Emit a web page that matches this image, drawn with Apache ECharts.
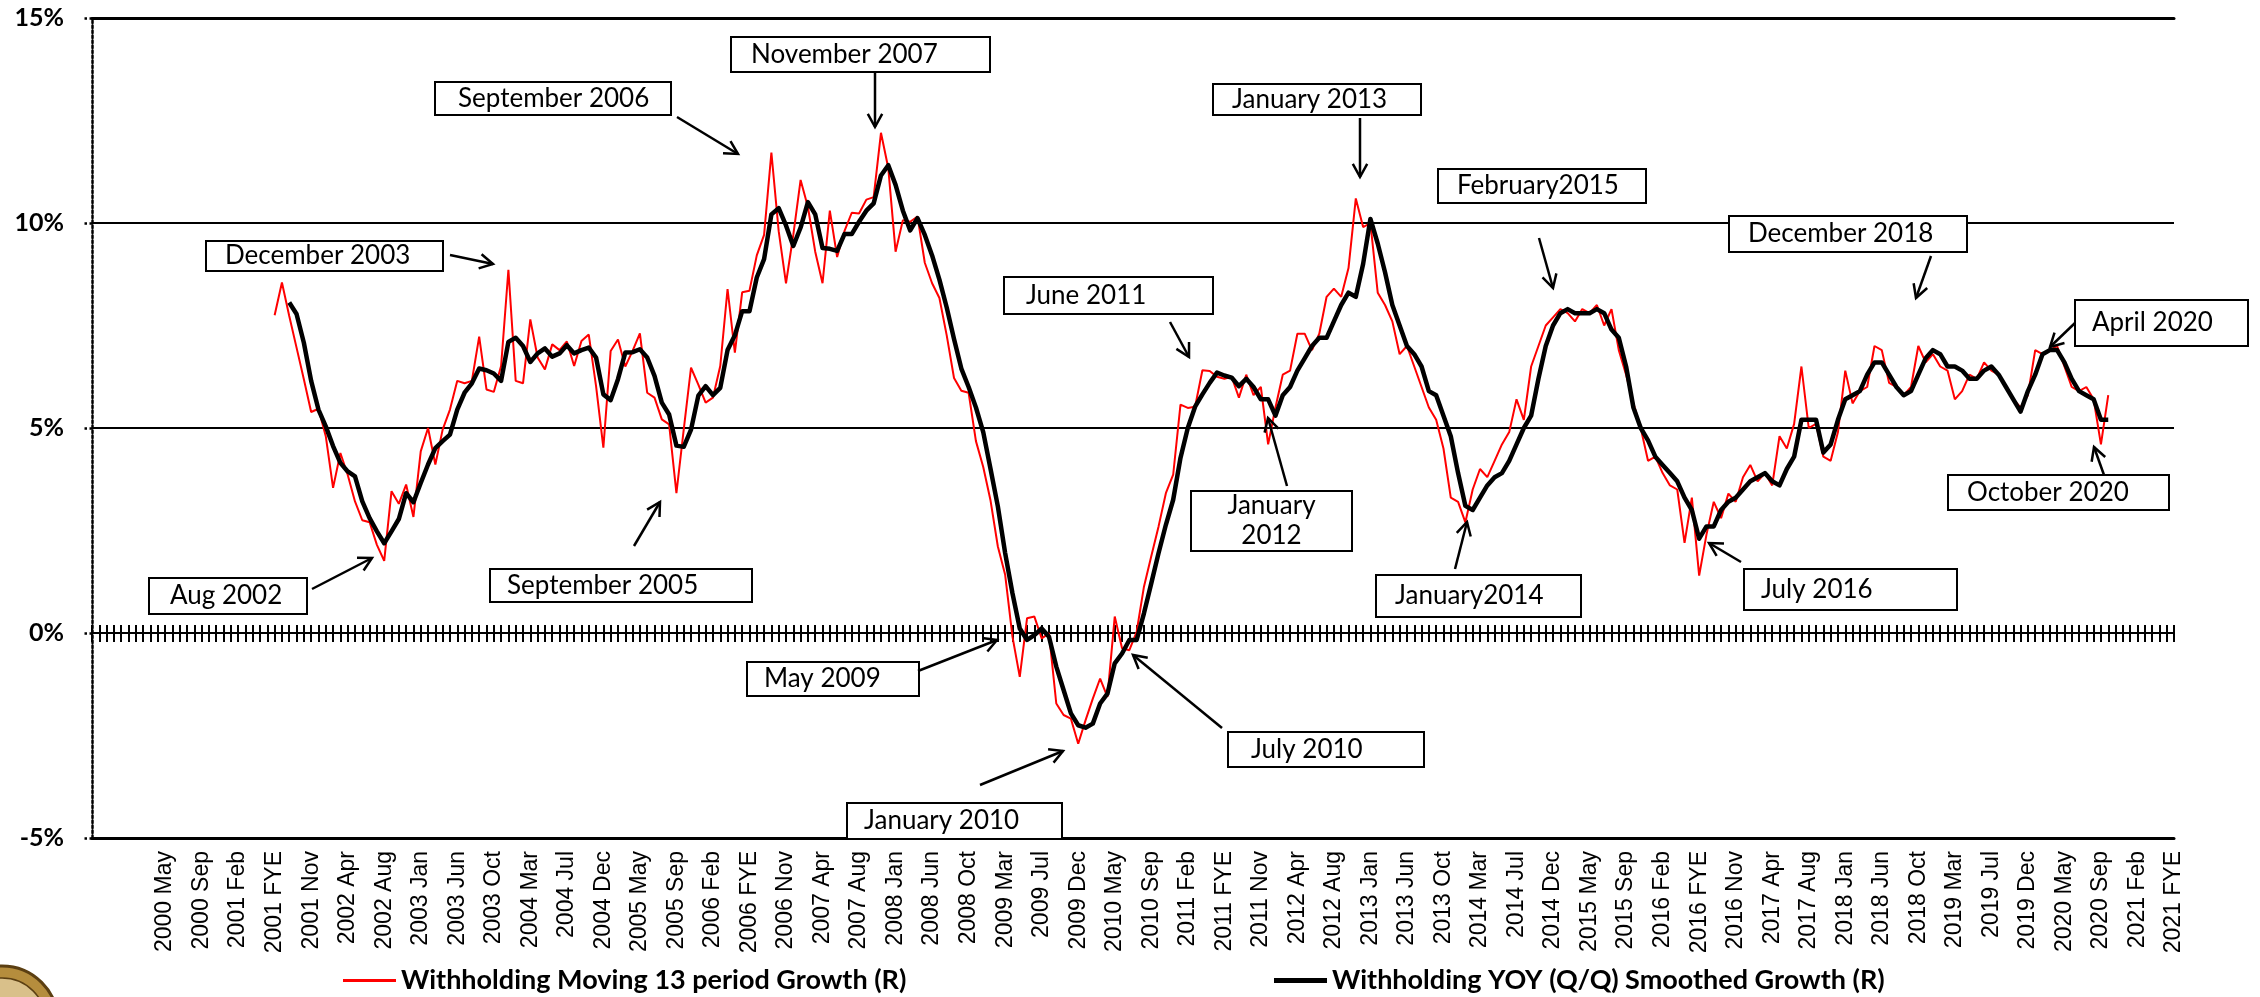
<!DOCTYPE html>
<html>
<head>
<meta charset="utf-8">
<script src="https://cdn.jsdelivr.net/npm/echarts@6/dist/echarts.min.js"></script>
<style>
html,body{margin:0;padding:0;background:#ffffff;}
#chart{width:2260px;height:997px;}
</style>
</head>
<body>
<div id="chart"></div>
<script>
// ---------- DATA ----------
const periods = ['Jan','Feb','Mar','Apr','May','Jun','FYE','Jul','Aug','Sep','Oct','Nov','Dec'];
const firstCategory = '1999 Jul';
const lastCategory = '2021 FYE';
const firstLabeled = '2000 May';
const labelStep = 5;

const redName = 'Withholding Moving 13 period Growth (R)';
const blackName = 'Withholding YOY (Q/Q) Smoothed Growth (R)';

const redStart = '2001 FYE';
const redValues = [
  7.75, 8.55, 7.73, 6.96, 6.19, 5.39, 5.47, 4.80, 3.54, 4.39,
  3.86, 3.21, 2.75, 2.70, 2.15, 1.76, 3.46, 3.15, 3.62, 2.83,
  4.43, 5.00, 4.11, 4.96, 5.45, 6.15, 6.09, 6.15, 7.23, 5.94,
  5.88, 6.51, 8.86, 6.15, 6.09, 7.65, 6.72, 6.43, 7.04, 6.90,
  7.11, 6.51, 7.12, 7.28, 6.02, 4.52, 6.88, 7.16, 6.50, 6.88,
  7.31, 5.86, 5.74, 5.21, 5.09, 3.41, 4.96, 6.47, 6.06, 5.62,
  5.74, 6.51, 8.39, 6.84, 8.31, 8.35, 9.21, 9.71, 11.72, 9.80,
  8.53, 9.71, 11.05, 10.39, 9.30, 8.53, 10.30, 9.17, 9.80, 10.25,
  10.23, 10.57, 10.63, 12.20, 11.34, 9.30, 10.07, 10.03, 10.16, 9.03,
  8.53, 8.17, 7.26, 6.22, 5.91, 5.86, 4.68, 4.05, 3.23, 2.11,
  1.42, -0.09, -1.07, 0.36, 0.40, -0.13, -0.01, -1.72, -2.00, -2.09,
  -2.70, -2.13, -1.60, -1.11, -1.56, 0.40, -0.37, -0.42, 0.03, 1.13,
  1.87, 2.60, 3.41, 3.86, 5.57, 5.49, 5.52, 6.41, 6.39, 6.25,
  6.20, 6.25, 5.74,
  6.3, 5.8, 6.0, 4.6, 5.5, 6.3, 6.4, 7.3, 7.3, 6.9,
  7.3, 8.2, 8.4, 8.2, 8.9, 10.6, 9.9, 10.0, 8.3, 8.0,
  7.6, 6.8, 7.0, 6.5, 6.0, 5.5, 5.2, 4.5, 3.3, 3.2,
  2.7, 3.5, 4.0, 3.8, 4.2, 4.6, 4.9, 5.7, 5.2, 6.5,
  7.0, 7.5, 7.7, 7.9, 7.8, 7.6, 7.9, 7.8, 8.0, 7.5,
  7.9, 6.9, 6.3, 5.6, 5.0, 4.2, 4.3, 3.9, 3.6, 3.5,
  2.2, 3.3, 1.4, 2.4, 3.2, 2.8, 3.4, 3.2, 3.8, 4.1,
  3.7, 3.9, 3.6, 4.8, 4.5, 5.1, 6.5, 5.0, 5.1, 4.3,
  4.2, 4.9, 6.4, 5.6, 5.9, 6.0, 7.0, 6.9, 6.1, 6.0,
  5.8, 6.0, 7.0, 6.6, 6.8, 6.5, 6.4, 5.7, 5.9, 6.3,
  6.2, 6.6, 6.4, 6.3, 6.0, 5.7, 5.5, 5.8, 6.9, 6.8,
  6.9, 7.0, 6.5, 6.0, 5.9, 6.0, 5.7, 4.6, 5.8
];

const blackStart = '2001 Aug';
const blackValues = [
  8.06, 7.78, 7.08, 6.15, 5.45, 5.04, 4.56, 4.15, 3.94, 3.82,
  3.21, 2.80, 2.48, 2.19, 2.48, 2.78, 3.41, 3.19, 3.66, 4.11,
  4.51, 4.68, 4.84, 5.45, 5.86, 6.09, 6.45, 6.41, 6.33, 6.15,
  7.10, 7.20, 7.00, 6.61, 6.82, 6.94, 6.74, 6.82, 7.02, 6.82,
  6.90, 6.96, 6.72, 5.82, 5.68, 6.19, 6.84, 6.85, 6.92, 6.72,
  6.27, 5.62, 5.33, 4.57, 4.54, 4.96, 5.79, 6.02, 5.80, 5.98,
  6.90, 7.26, 7.85, 7.85, 8.67, 9.12, 10.21, 10.36, 9.94, 9.44,
  9.89, 10.51, 10.21, 9.39, 9.37, 9.32, 9.73, 9.73, 10.03, 10.30,
  10.48, 11.16, 11.41, 10.93, 10.30, 9.82, 10.12, 9.71, 9.21, 8.62,
  7.94, 7.17, 6.45, 6.00, 5.50, 4.90, 4.00, 3.09, 1.95, 0.97,
  0.11, -0.17, -0.05, 0.11, -0.09, -0.82, -1.39, -1.96, -2.25, -2.31,
  -2.21, -1.72, -1.48, -0.74, -0.50, -0.17, -0.17, 0.48, 1.21, 1.95,
  2.64, 3.25, 4.27, 5.00, 5.52, 5.82, 6.10, 6.35, 6.28, 6.23,
  6.02,
  6.2, 6.0, 5.7, 5.7, 5.3, 5.8, 6.0, 6.4, 6.7, 7.0,
  7.2, 7.2, 7.6, 8.0, 8.3, 8.2, 9.0, 10.1, 9.5, 8.8,
  8.0, 7.5, 7.0, 6.8, 6.5, 5.9, 5.8, 5.3, 4.8, 3.9,
  3.1, 3.0, 3.3, 3.6, 3.8, 3.9, 4.2, 4.6, 5.0, 5.3,
  6.2, 7.0, 7.5, 7.8, 7.9, 7.8, 7.8, 7.8, 7.9, 7.8,
  7.4, 7.2, 6.5, 5.5, 5.0, 4.7, 4.3, 4.1, 3.9, 3.7,
  3.3, 3.0, 2.3, 2.6, 2.6, 3.0, 3.2, 3.3, 3.5, 3.7,
  3.8, 3.9, 3.7, 3.6, 4.0, 4.3, 5.2, 5.2, 5.2, 4.4,
  4.6, 5.2, 5.7, 5.8, 5.9, 6.3, 6.6, 6.6, 6.3, 6.0,
  5.8, 5.9, 6.3, 6.7, 6.9, 6.8, 6.5, 6.5, 6.4, 6.2,
  6.2, 6.4, 6.5, 6.3, 6.0, 5.7, 5.4, 5.9, 6.3, 6.8,
  6.9, 6.9, 6.6, 6.2, 5.9, 5.8, 5.7, 5.2, 5.2
];

const yTicks = [-5, 0, 5, 10, 15];

// Annotations (text, box [x, y, w, h], text x, arrow tail, arrow tip) in pixels
const annotations = [
  {text: ['November 2007'], box: [731, 37, 259, 35], tx: 751, tail: [875, 73], tip: [875, 127]},
  {text: ['September 2006'], box: [435, 82, 236, 33], tx: 458, tail: [677, 117], tip: [738, 154]},
  {text: ['December 2003'], box: [206, 241, 237, 30], tx: 225, tail: [450, 255], tip: [493, 264]},
  {text: ['Aug 2002'], box: [149, 578, 158, 36], tx: 170, tail: [312, 589], tip: [372, 558]},
  {text: ['September 2005'], box: [490, 569, 262, 33], tx: 507, tail: [634, 546], tip: [660, 502]},
  {text: ['June 2011'], box: [1004, 277, 209, 37], tx: 1026, tail: [1170, 322], tip: [1189, 357]},
  {text: ['January', '2012'], box: [1191, 491, 161, 60], tx: null, tail: [1287, 486], tip: [1268, 418]},
  {text: ['January 2013'], box: [1213, 84, 208, 31], tx: 1232, tail: [1360, 118], tip: [1360, 177]},
  {text: ['February2015'], box: [1438, 169, 208, 34], tx: 1457, tail: [1539, 238], tip: [1553, 288]},
  {text: ['January2014'], box: [1376, 575, 205, 42], tx: 1395, tail: [1455, 569], tip: [1467, 522]},
  {text: ['July 2016'], box: [1744, 569, 213, 41], tx: 1761, tail: [1741, 562], tip: [1709, 543]},
  {text: ['December 2018'], box: [1729, 216, 238, 36], tx: 1748, tail: [1931, 256], tip: [1916, 298]},
  {text: ['April 2020'], box: [2075, 300, 173, 46], tx: 2092, tail: [2075, 323], tip: [2050, 347]},
  {text: ['October 2020'], box: [1948, 475, 221, 35], tx: 1967, tail: [2104, 475], tip: [2094, 447]},
  {text: ['May 2009'], box: [747, 662, 172, 34], tx: 764, tail: [918, 671], tip: [997, 640]},
  {text: ['January 2010'], box: [847, 803, 215, 36], tx: 864, tail: [980, 785], tip: [1063, 751]},
  {text: ['July 2010'], box: [1228, 732, 196, 35], tx: 1251, tail: [1222, 728], tip: [1133, 655]}
];

// ---------- BUILD ----------
const categories = [];
(function () {
  const [fy] = firstCategory.split(' ');
  const [ly] = lastCategory.split(' ');
  let started = false;
  for (let y = +fy; y <= +ly; y++) {
    for (let p = 0; p < periods.length; p++) {
      const name = y + ' ' + periods[p];
      if (name === firstCategory) started = true;
      if (started) categories.push(name);
      if (name === lastCategory) return;
    }
  }
})();

function pad(startName, values) {
  const s = categories.indexOf(startName);
  return categories.map((c, i) => (i >= s && i - s < values.length) ? values[i - s] : null);
}
const redData = pad(redStart, redValues);
const blackData = pad(blackStart, blackValues);
const labelFrom = categories.indexOf(firstLabeled);

const graphics = [];
annotations.forEach(a => {
  const [bx, by, bw, bh] = a.box;
  graphics.push({type: 'rect', z: 100, shape: {x: bx, y: by, width: bw, height: bh},
    style: {fill: '#ffffff', stroke: '#000000', lineWidth: 2}});
  const lh = 30;
  a.text.forEach((t, k) => {
    const cy = by + bh / 2 + (k - (a.text.length - 1) / 2) * lh;
    graphics.push({type: 'text', z: 101, x: a.tx == null ? bx + bw / 2 : a.tx, y: cy,
      style: {text: t, fontSize: 26, fontFamily: 'Lato, "Open Sans", sans-serif', fill: '#000',
        align: a.tx == null ? 'center' : 'left', verticalAlign: 'middle'}});
  });
  const [x1, y1] = a.tail, [x2, y2] = a.tip;
  graphics.push({type: 'line', z: 102, shape: {x1, y1, x2, y2}, style: {stroke: '#000', lineWidth: 2.5}});
  const ang = Math.atan2(y2 - y1, x2 - x1), L = 15, spread = 0.5;
  graphics.push({type: 'polyline', z: 102, shape: {points: [
    [x2 - L * Math.cos(ang - spread), y2 - L * Math.sin(ang - spread)], [x2, y2],
    [x2 - L * Math.cos(ang + spread), y2 - L * Math.sin(ang + spread)]]},
    style: {stroke: '#000', lineWidth: 2.5, fill: null}});
});
// partial seal at bottom-left corner
graphics.push({type: 'circle', z: 1, shape: {cx: 2, cy: 1022, r: 56},
  style: {fill: '#b58d3d', stroke: '#5b3f12', lineWidth: 3}});
graphics.push({type: 'circle', z: 1, shape: {cx: 2, cy: 1022, r: 44},
  style: {fill: '#d9c08a', stroke: '#5b3f12', lineWidth: 1.5}});

const chart = echarts.init(document.getElementById('chart'), null, {renderer: 'canvas'});
const catAxisBase = {type: 'category', data: categories, boundaryGap: false, splitLine: {show: false}};
const legendText = {fontFamily: 'Lato, sans-serif', fontWeight: 'bold', fontSize: 27, color: '#000'};
chart.setOption({
  animation: false,
  backgroundColor: '#ffffff',
  grid: {left: 92, right: 86, top: 18, bottom: 159, containLabel: false},
  legend: [
    {data: [redName], left: 343, top: 967, padding: 0, itemWidth: 53, itemHeight: 3, icon: 'rect',
      textStyle: legendText},
    {data: [blackName], left: 1274, top: 967, padding: 0, itemWidth: 53, itemHeight: 5, icon: 'rect',
      textStyle: legendText}
  ],
  xAxis: [
    Object.assign({}, catAxisBase, {
      position: 'bottom',
      axisLine: {onZero: false, lineStyle: {color: '#000', width: 3}},
      axisTick: {show: false},
      axisLabel: {
        interval: (i) => i >= labelFrom && (i - labelFrom) % labelStep === 0,
        rotate: 90, fontSize: 23, fontFamily: '"Liberation Sans", Arial, sans-serif', color: '#000', margin: 13
      }
    }),
    Object.assign({}, catAxisBase, {
      position: 'bottom',
      axisLine: {onZero: true, onZeroAxisIndex: 0, lineStyle: {color: '#000', width: 2}},
      axisTick: {show: true, interval: 0, length: 9, lineStyle: {color: '#000', width: 2}},
      axisLabel: {show: false}
    }),
    Object.assign({}, catAxisBase, {
      position: 'top',
      axisLine: {onZero: true, onZeroAxisIndex: 0, lineStyle: {color: '#000', width: 2}},
      axisTick: {show: true, interval: 0, length: 8, lineStyle: {color: '#000', width: 2}},
      axisLabel: {show: false}
    }),
    Object.assign({}, catAxisBase, {
      position: 'top',
      axisLine: {onZero: false, lineStyle: {color: '#000', width: 3}},
      axisTick: {show: false},
      axisLabel: {show: false}
    })
  ],
  yAxis: {
    type: 'value', min: yTicks[0], max: yTicks[yTicks.length - 1], interval: yTicks[1] - yTicks[0],
    axisLine: {show: true, onZero: false, lineStyle: {color: '#000', width: 2.5, type: 'dotted'}},
    axisTick: {show: true, length: 9, lineStyle: {color: '#000', width: 2.5, type: 'dotted'}},
    axisLabel: {formatter: '{value}%', fontFamily: 'Lato, sans-serif', fontWeight: 'bold', fontSize: 25,
      color: '#000', margin: 28},
    splitLine: {show: true, lineStyle: {color: '#000', width: 2}}
  },
  series: [
    {name: redName, type: 'line', data: redData, showSymbol: false, symbol: 'none', connectNulls: false,
      lineStyle: {color: '#ff0000', width: 2}, itemStyle: {color: '#ff0000'}, z: 3},
    {name: blackName, type: 'line', data: blackData, showSymbol: false, symbol: 'none', connectNulls: false,
      lineStyle: {color: '#000000', width: 4.5, join: 'round'}, itemStyle: {color: '#000000'}, z: 4}
  ],
  graphic: graphics
});
</script>
</body>
</html>
